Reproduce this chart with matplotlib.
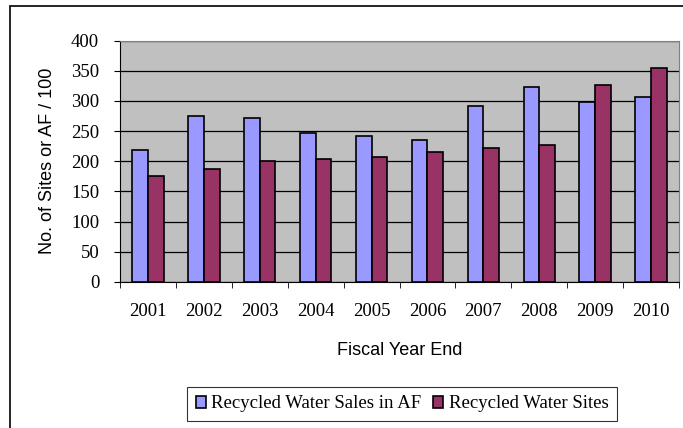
import matplotlib.pyplot as plt
import numpy as np
from matplotlib.patches import Rectangle

# valeurs
years = ['2001', '2002', '2003', '2004', '2005', '2006', '2007', '2008', '2009', '2010']
sales_af = [218, 275, 272, 246, 241, 235, 292, 323, 298, 307]
sites = [176, 187, 201, 204, 207, 215, 222, 227, 327, 354]

serif = 'Liberation Serif'
sans = 'Liberation Sans'
fs = 13.5

fig = plt.figure(figsize=(6.83, 4.28), dpi=100)
fig.patches.append(Rectangle((10 / 683, -0.1), 1.2, (428 - 6) / 428 + 0.1,
                             transform=fig.transFigure, fill=False,
                             edgecolor='black', linewidth=1.2, clip_on=False))

ax = fig.add_axes([120 / 683, (428 - 282) / 428, 559 / 683, 241.5 / 428])
ax.set_facecolor('#C0C0C0')

x = np.arange(len(years))
w = 0.28
ax.bar(x - w / 2, sales_af, w, color='#9999FF', edgecolor='black', linewidth=1.2,
       label='Recycled Water Sales in AF', zorder=3)
ax.bar(x + w / 2, sites, w, color='#993366', edgecolor='black', linewidth=1.2,
       label='Recycled Water Sites', zorder=3)

ax.set_xlim(-0.5, len(years) - 0.5)
ax.set_ylim(0, 400)
ax.set_yticks(range(0, 401, 50))
ax.yaxis.grid(True, color='black', linewidth=0.9, zorder=1)
ax.set_xticks(x)
ax.set_xticklabels(years, fontfamily=serif, fontsize=fs)
ax.set_xticks(np.arange(-0.5, len(years)), minor=True)
ax.tick_params(axis='x', which='major', length=0, pad=15)
ax.tick_params(axis='x', which='minor', length=4, direction='out')
ax.tick_params(axis='y', length=4, direction='out', pad=11)
for t in ax.get_yticklabels():
    t.set_fontfamily(serif)
    t.set_fontsize(fs)

for s in ['top', 'right']:
    ax.spines[s].set_color('#808080')
ax.spines['left'].set_color('black')
ax.spines['bottom'].set_color('black')

ax.set_xlabel('Fiscal Year End', fontfamily=sans, fontsize=13, labelpad=16)
ax.set_ylabel('No. of Sites or AF / 100', fontfamily=sans, fontsize=13, labelpad=11)

leg = ax.legend(loc='center', bbox_to_anchor=(402 / 683, 24 / 428),
                bbox_transform=fig.transFigure, ncol=2, frameon=True, fancybox=False,
                edgecolor='black', prop={'family': serif, 'size': fs},
                handlelength=0.55, handleheight=0.55, handletextpad=0.3,
                columnspacing=0.6, borderpad=0.45, borderaxespad=0)
leg.get_frame().set_linewidth(0.8)

fig.savefig('out.png', dpi=100)
